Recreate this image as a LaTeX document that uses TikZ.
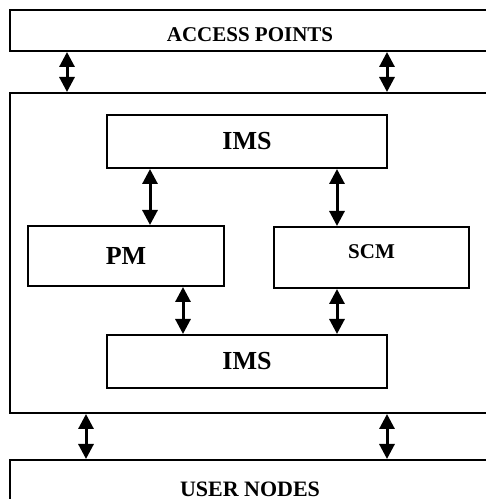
\documentclass[tikz,border=0pt]{standalone}
\usepackage{fontspec}
\setmainfont{Liberation Serif}
\usepackage{tikz}
\usetikzlibrary{arrows.meta, positioning}

\begin{document}
\begin{tikzpicture}[
    x=0.5pt, y=0.5pt,
    layer/.style={rectangle, draw=black, line width=1pt, minimum width=240pt,
                  font=\fontsize{10.5}{12}\selectfont\bfseries},
    block/.style={rectangle, draw=black, line width=1pt,
                  font=\fontsize{13}{15}\selectfont\bfseries},
    dbl/.style={{Triangle[length=7.5pt,width=7.5pt]}-{Triangle[length=7.5pt,width=7.5pt]},
                line width=1.5pt, draw=black}
]
\useasboundingbox (0,0) rectangle (486,499);
\clip (0,0) rectangle (486,499);

% outer layers
\node[layer, minimum height=20.5pt, text height=11.4pt, text depth=0pt] (ap) at (250,468.5) {ACCESS POINTS};
\node[layer, minimum height=160pt] (core) at (250,246) {};
\node[layer, minimum height=29pt, font=\fontsize{11}{13}\selectfont\bfseries] (un) at (250,10) {USER NODES};

% inner blocks
\node[block, minimum width=140pt, minimum height=26.5pt] (ims_top) at (247,357.5) {IMS};
\node[block, minimum width=98pt, minimum height=30pt]    (pm)      at (126,243)   {PM};
\node[block, minimum width=97.5pt, minimum height=30.5pt, font=\fontsize{10.5}{12}\selectfont\bfseries,
      text height=6.9pt, text depth=5.5pt]               (scm)     at (371.5,241.5) {SCM};
\node[block, minimum width=140pt, minimum height=26.5pt] (ims_bot) at (247,137.5) {IMS};

% links
\foreach \dx in {-91.5pt,68.5pt}
    \draw[dbl] ([xshift=\dx]ap.south) -- ([xshift=\dx]core.north);
\draw[dbl] ([xshift=-48.5pt]ims_top.south) -- ([xshift=12pt]pm.north);
\draw[dbl] ([xshift=45pt]ims_top.south)    -- ([xshift=-17.25pt]scm.north);
\draw[dbl] ([xshift=28.5pt]pm.south)       -- ([xshift=-32pt]ims_bot.north);
\draw[dbl] ([xshift=-17.25pt]scm.south)    -- ([xshift=45pt]ims_bot.north);
\foreach \dx in {-82pt,68.5pt}
    \draw[dbl] ([xshift=\dx]core.south) -- ([xshift=\dx]un.north);
\end{tikzpicture}
\end{document}
